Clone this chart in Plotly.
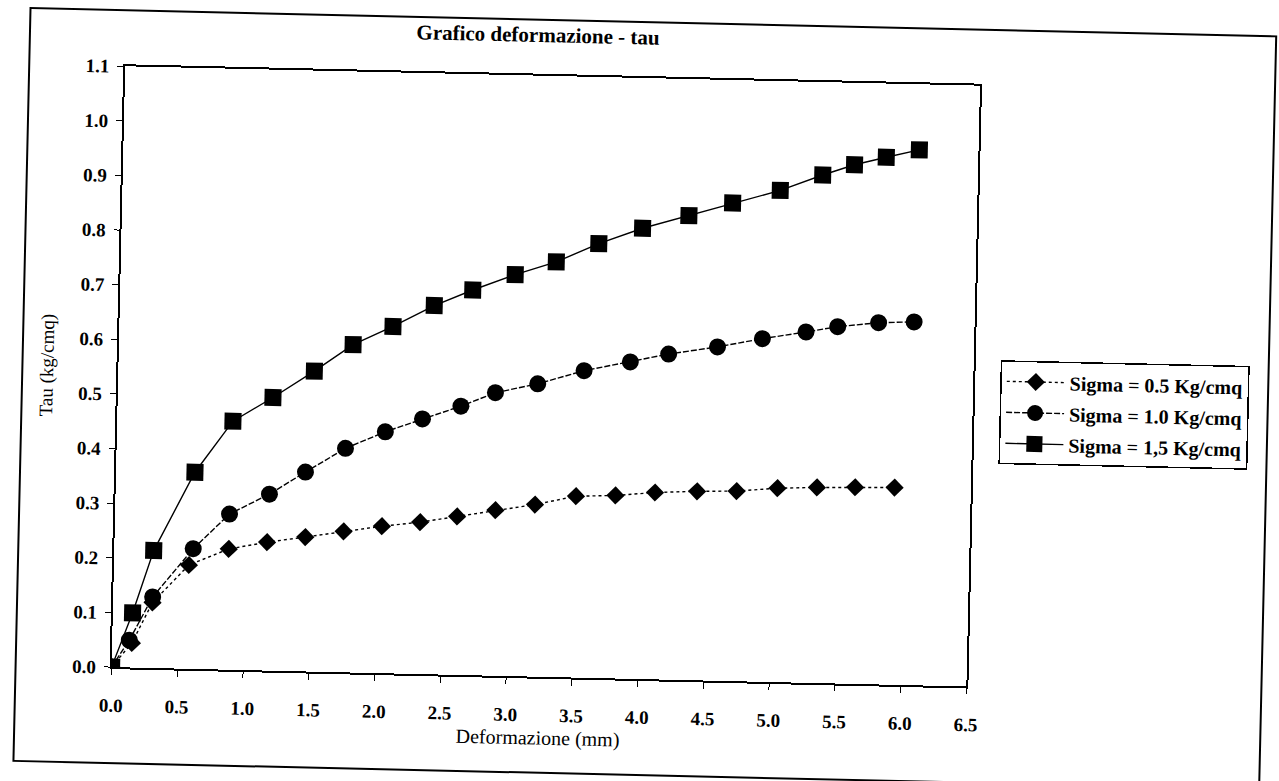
import plotly.graph_objects as go

# Deformazione (mm) / Tau (kg/cmq) for each normal stress level
deform_05 = [0.0, 0.15, 0.3, 0.57, 0.87, 1.16, 1.45, 1.74, 2.03, 2.32, 2.6,
             2.89, 3.19, 3.5, 3.8, 4.1, 4.42, 4.72, 5.03, 5.33, 5.62, 5.92]
tau_05 = [0.0, 0.045, 0.12, 0.19, 0.221, 0.235, 0.246, 0.258, 0.269, 0.278, 0.29,
          0.303, 0.315, 0.332, 0.335, 0.342, 0.346, 0.348, 0.355, 0.358, 0.36, 0.361]

deform_10 = [0.0, 0.13, 0.3, 0.6, 0.87, 1.17, 1.44, 1.74, 2.04, 2.32, 2.61,
             2.87, 3.19, 3.54, 3.89, 4.18, 4.55, 4.89, 5.22, 5.46, 5.77, 6.04]
tau_10 = [0.0, 0.05, 0.13, 0.22, 0.285, 0.323, 0.365, 0.41, 0.442, 0.467, 0.492,
          0.518, 0.536, 0.562, 0.58, 0.596, 0.611, 0.628, 0.642, 0.653, 0.662, 0.665]

deform_15 = [0.0, 0.15, 0.3, 0.6, 0.88, 1.18, 1.49, 1.78, 2.08, 2.39, 2.68,
             3.0, 3.31, 3.63, 3.96, 4.31, 4.64, 5.0, 5.32, 5.56, 5.8, 6.05]
tau_15 = [0.0, 0.10, 0.215, 0.36, 0.455, 0.50, 0.55, 0.60, 0.635, 0.675, 0.705,
          0.735, 0.76, 0.795, 0.825, 0.85, 0.875, 0.90, 0.93, 0.95, 0.965, 0.98]

series_names = ["Sigma = 0.5 Kg/cmq", "Sigma = 1.0 Kg/cmq", "Sigma = 1,5 Kg/cmq"]
x_ticks = [0.0, 0.5, 1.0, 1.5, 2.0, 2.5, 3.0, 3.5, 4.0, 4.5, 5.0, 5.5, 6.0, 6.5]
y_ticks = [0.0, 0.1, 0.2, 0.3, 0.4, 0.5, 0.6, 0.7, 0.8, 0.9, 1.0, 1.1]

SERIF = "Liberation Serif, Times New Roman, serif"
W, H = 1279, 781
L, R, T, B = 118, 306, 78, 102
PW, PH = W - L - R, H - T - B

styles = [
    dict(symbol="diamond", size=14, dash="dot"),
    dict(symbol="circle", size=17, dash="6px,2px"),
    dict(symbol="square", size=17, dash="solid"),
]

fig = go.Figure()
for name, xs, ys, st in zip(series_names,
                            [deform_05, deform_10, deform_15],
                            [tau_05, tau_10, tau_15], styles):
    fig.add_trace(go.Scatter(
        x=xs, y=ys, mode="lines+markers", name=name, legendgroup=name,
        line=dict(color="black", width=1.4, dash=st["dash"]),
        marker=dict(symbol=st["symbol"], size=st["size"], color="black",
                    line=dict(width=0)),
    ))

axis_common = dict(
    showline=True, linecolor="black", linewidth=2, mirror=True,
    ticks="outside", ticklen=6, tickwidth=1.3, tickcolor="black",
    showgrid=False, zeroline=False,
    tickfont=dict(family=SERIF, size=19, color="black", weight="bold"),
    tickformat=".1f",
)

fig.update_layout(
    width=W, height=H,
    margin=dict(l=L, r=R, t=T, b=B),
    paper_bgcolor="white", plot_bgcolor="white",
    font=dict(family=SERIF, color="black"),
    title=dict(text="<b>Grafico deformazione - tau</b>",
               font=dict(family=SERIF, size=21, color="black"),
               x=530 / W, xanchor="center",
               y=1 - 37 / H, yanchor="middle"),
    xaxis=dict(range=[0, 6.5], tickvals=x_ticks, ticklabelstandoff=14,
               title=dict(text="Deformazione (mm)", standoff=6,
                          font=dict(family=SERIF, size=20, color="black")),
               **axis_common),
    yaxis=dict(range=[0, 1.1], tickvals=y_ticks, ticklabelstandoff=4,
               title=dict(text="Tau (kg/cmq)", standoff=20,
                          font=dict(family=SERIF, size=19, color="black")),
               **axis_common),
    showlegend=True,
    legend=dict(x=(1000 - L) / PW, y=1 - (352 - T) / PH,
                xanchor="left", yanchor="top",
                bgcolor="white", bordercolor="black", borderwidth=1.5,
                font=dict(family=SERIF, size=20, color="black", weight="bold"),
                tracegroupgap=2, itemwidth=58),
)

# outer border of the chart area
fig.add_shape(type="rect", xref="paper", yref="paper",
              x0=(22 - L) / PW, x1=(1268 - L) / PW,
              y0=1 - (775 - T) / PH, y1=1 - (22 - T) / PH,
              line=dict(color="black", width=2), fillcolor="rgba(0,0,0,0)",
              layer="below")

fig.write_html(
    "out.html",
    post_script="var d=document.getElementById('{plot_id}');"
                "d.style.transformOrigin='50% 50%';"
                "d.style.transform='rotate(1.3deg)';",
)
